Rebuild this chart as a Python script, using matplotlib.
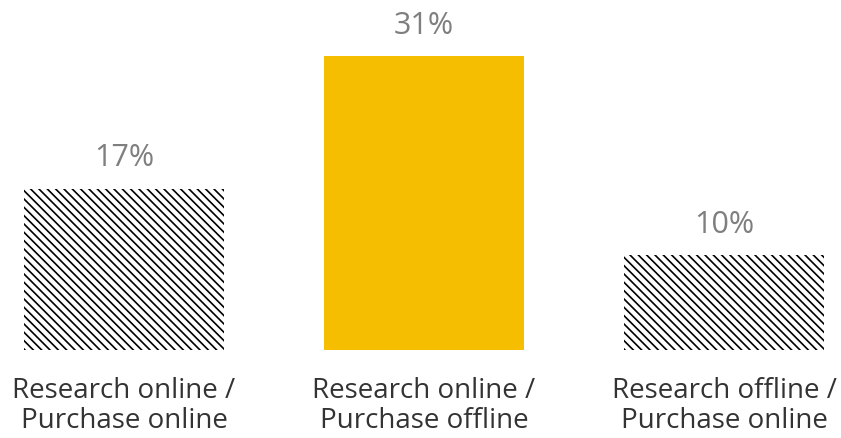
import matplotlib
matplotlib.use('Agg')
import matplotlib.pyplot as plt

plt.rcParams['font.family'] = ['Open Sans', 'DejaVu Sans']
plt.rcParams['hatch.linewidth'] = 1.2

categories = ['Research online /\nPurchase online',
              'Research online /\nPurchase offline',
              'Research offline /\nPurchase online']
values = [17, 31, 10]
labels = ['17%', '31%', '10%']
hatched = [True, False, True]

fig = plt.figure(figsize=(8.41, 4.38), dpi=100)
ax = fig.add_axes([0, 88/438, 1, 350/438])

for i, v in enumerate(values):
    if hatched[i]:
        ax.bar(i, v, width=2/3, color='white', edgecolor='black', linewidth=0,
               hatch='\\' * 4)
    else:
        ax.bar(i, v, width=2/3, color='#F6BE00', linewidth=0)
    ax.annotate(labels[i], (i, v), xytext=(0, 11), textcoords='offset points',
                ha='center', va='bottom', fontsize=22, color='#7f7f7f')
    ax.text(i, -2.85, categories[i], ha='center', va='top', fontsize=20,
            color='#333333', linespacing=1.1)

ax.set_xlim(-124/300, 717/300)
ax.set_ylim(0, 350/9.484)
ax.axis('off')

plt.savefig('out.png', dpi=100)
